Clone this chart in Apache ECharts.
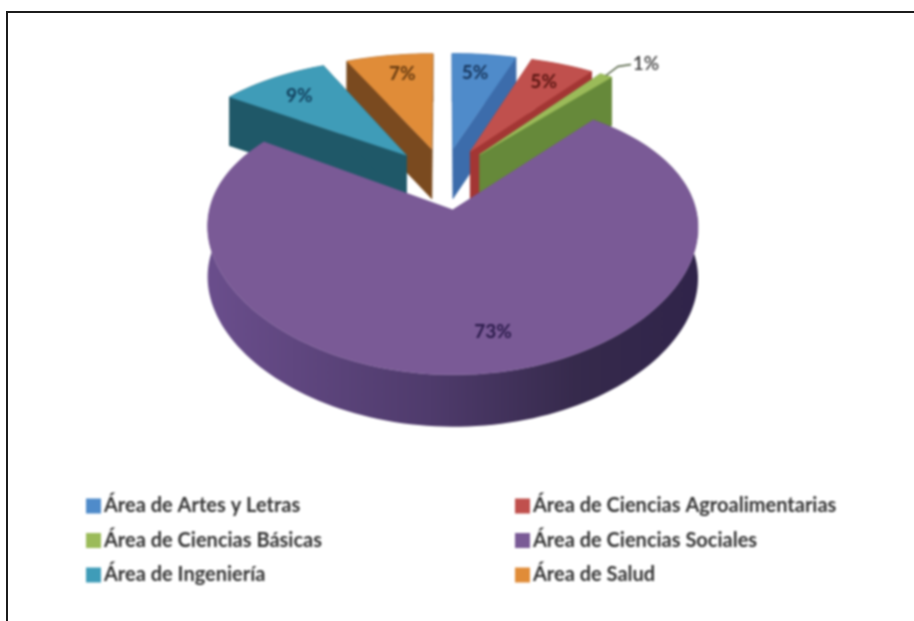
<!DOCTYPE html>
<html>
<head>
<meta charset="utf-8">
<title>Áreas</title>
<script src="https://cdn.jsdelivr.net/npm/echarts@6/dist/echarts.min.js"></script>
<style>
  html, body { margin: 0; padding: 0; background: #fff; }
  #main { width: 914px; height: 621px; filter: blur(0.8px); }
  .frame { position: absolute; background: #1c1c1c; }
</style>
</head>
<body>
<div id="main"></div>
<div class="frame" style="left:6px;top:11px;width:908px;height:2px"></div>
<div class="frame" style="left:6px;top:11px;width:2px;height:610px"></div>
<script>
  const categories = ['Área de Artes y Letras', 'Área de Ciencias Agroalimentarias', 'Área de Ciencias Básicas', 'Área de Ciencias Sociales', 'Área de Ingeniería', 'Área de Salud']
  const values = [5.0, 5.0, 1.0, 73.49, 8.7, 6.81]

  const topColors = ['#4f8bca', '#c0504d', '#9bbb59', '#7a5a96', '#3f9cb8', '#e08c38']
  const wallColors = ['#3c6cab', '#a33634', '#66893a', '#6a4e8c', '#1f5868', '#7a4a1f']
  const labelColors = ['#17365d', '#5a1612', '#404040', '#2a1a4a', '#123f5c', '#653a10']
  const labelRadius = [0.78, 0.78, 1.0, 0.8, 0.78, 0.82]
  const labelShift = [[-3, 0], [0, 0], [0, 3], [9, -3], [-1, 2], [6, 3]]
  const drawOrder = [5, 4, 0, 1, 2, 3]

  // pseudo perspective for the tilted pie
  const cx = 444, cy = 178
  const a = 122, b = 236, kx = 0.12, ky = 0.18
  const explode = 0.253
  const total = values.reduce((s, v) => s + v, 0)

  function project (x, y) {
    return [cx + b * x / (1 - kx * y), cy + a * y / (1 - ky * y)]
  }
  function depth (y) {
    return 50 + 1.5 * y
  }
  function slice (i) {
    const before = values.slice(0, i).reduce((s, v) => s + v, 0)
    const start = before / total * Math.PI * 2
    const end = (before + values[i]) / total * Math.PI * 2
    const mid = (start + end) / 2
    return { start, end, mid, ox: explode * Math.sin(mid), oy: -explode * Math.cos(mid) }
  }
  function at (s, r, th) {
    return [s.ox + r * Math.sin(th), s.oy - r * Math.cos(th)]
  }
  function poly (pts, fill) {
    return { type: 'polygon', shape: { points: pts }, style: { fill: fill, stroke: typeof fill === 'string' ? fill : null, lineWidth: 0.5 } }
  }
  function renderSlice (i) {
    const s = slice(i)
    const arc = []
    const steps = Math.max(4, Math.ceil((s.end - s.start) / 0.03))
    for (let n = 0; n <= steps; n++) {
      arc.push(at(s, 1, s.start + (s.end - s.start) * n / steps))
    }
    const top = arc.map(p => project(p[0], p[1]))
    const low = arc.map((p, n) => [top[n][0], top[n][1] + depth(p[1])])
    const apex = project(s.ox, s.oy)
    const apexLow = [apex[0], apex[1] + depth(s.oy)]

    let wallFill = wallColors[i]
    if (i === 3) {
      wallFill = {
        type: 'linear', x: 0, y: 0, x2: 1, y2: 0,
        colorStops: [
          { offset: 0, color: '#6a4e8c' },
          { offset: 0.45, color: '#4f3b6c' },
          { offset: 0.75, color: '#362a4c' },
          { offset: 1, color: '#30244a' }
        ]
      }
    }
    const children = []
    children.push(poly(top.concat(low.slice().reverse()), wallFill))
    children.push(poly([apex, top[0], low[0], apexLow], wallColors[i]))
    children.push(poly([apex, top[steps], low[steps], apexLow], wallColors[i]))
    children.push(poly([apex].concat(top), topColors[i]))

    const lp = at(s, labelRadius[i], s.mid)
    let pos = project(lp[0], lp[1])
    if (i === 2) {
      // 1% sits outside with a leader line
      const edge = project(at(s, 1, s.mid)[0], at(s, 1, s.mid)[1])
      pos = [edge[0] + 40, edge[1] - 15]
      children.push({
        type: 'polyline',
        shape: { points: [edge, [edge[0] + 12, edge[1] - 9], [edge[0] + 25, edge[1] - 11]] },
        style: { stroke: '#4a5a3a', lineWidth: 1.5, fill: null }
      })
    }
    children.push({
      type: 'text',
      x: pos[0] + labelShift[i][0],
      y: pos[1] + labelShift[i][1],
      style: {
        text: Math.round(values[i]) + '%',
        fill: labelColors[i],
        font: (i === 2 ? '600' : 'bold') + ' 19px Lato',
        align: 'center',
        verticalAlign: 'middle'
      }
    })
    return { type: 'group', children: children }
  }

  const legendText = { fontFamily: 'Lato', fontWeight: 'bold', fontSize: 20, lineHeight: 20, color: '#333', padding: [0, 0, 0, -2] }
  const option = {
    animation: false,
    backgroundColor: '#fff',
    legend: [
      {
        data: [categories[0], categories[2], categories[4]],
        orient: 'vertical', left: 81, top: 491, icon: 'rect',
        itemWidth: 15, itemHeight: 15, itemGap: 14.5, selectedMode: false,
        textStyle: legendText
      },
      {
        data: [categories[1], categories[3], categories[5]],
        orient: 'vertical', left: 510, top: 491, icon: 'rect',
        itemWidth: 15, itemHeight: 15, itemGap: 14.5, selectedMode: false,
        textStyle: legendText
      }
    ],
    series: categories.map((name, i) => ({
      name: name,
      type: 'custom',
      coordinateSystem: 'none',
      z: 2 + drawOrder.indexOf(i),
      itemStyle: { color: topColors[i] },
      renderItem: () => renderSlice(i),
      data: [values[i]]
    }))
  }

  const chart = echarts.init(document.getElementById('main'))
  chart.setOption(option)
</script>
</body>
</html>
